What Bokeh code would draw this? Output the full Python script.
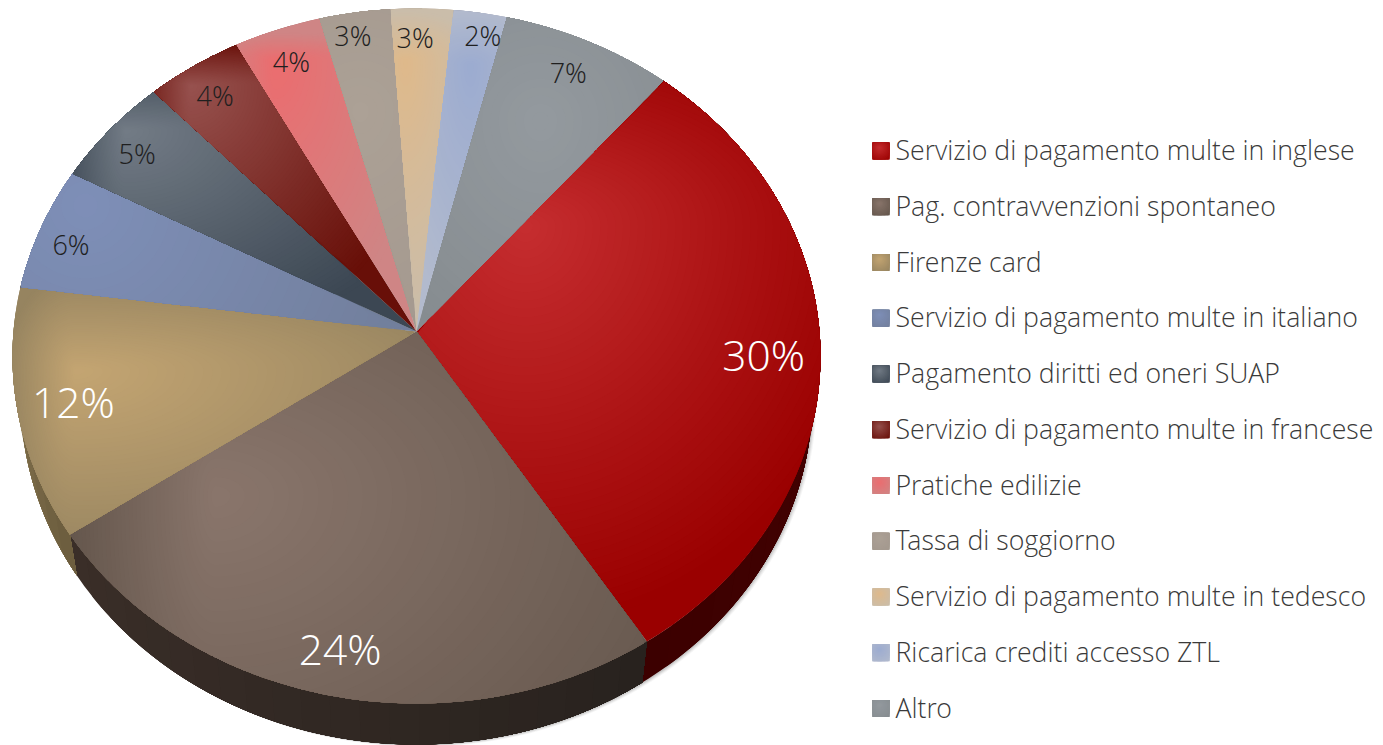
import numpy as np
from bokeh.plotting import figure
from bokeh.models import Range1d, ColumnDataSource
from bokeh.core.properties import value
from bokeh.embed import file_html
from bokeh.resources import INLINE

categories = ["Servizio di pagamento multe in inglese", "Pag. contravvenzioni spontaneo", "Firenze card",
              "Servizio di pagamento multe in italiano", "Pagamento diritti ed oneri SUAP",
              "Servizio di pagamento multe in francese", "Pratiche edilizie", "Tassa di soggiorno",
              "Servizio di pagamento multe in tedesco", "Ricarica crediti accesso ZTL", "Altro"]
shares = [29.8, 24.5, 11.6, 5.75, 5.17, 4.15, 3.73, 3.04, 2.67, 2.28, 7.31]
labels = ["30%", "24%", "12%", "6%", "5%", "4%", "4%", "3%", "3%", "2%", "7%"]

# styling (not data)
START = 40.2
hot = ["#c62e30", "#8a766c", "#c4a572", "#7e8fb8", "#737c86", "#97524f", "#ec6c6e", "#aca196", "#dfb98a", "#9babd0", "#949a9f"]
far = ["#9a0000", "#64564c", "#968460", "#727f9c", "#3c4753", "#680f08", "#cf8585", "#a3988e", "#cabdaa", "#b2bacd", "#868c90"]
hot_xy = [(525, 225), (215, 495), (75, 370), (85, 205), (125, 130), (190, 85), (275, 60), (360, 110), (405, 60), (470, 65), (540, 120)]
# falloff radii: left, right, up, down
fall = [(350, 360, 200, 400), (150, 560, 350, 440), (70, 420, 100, 200), (340, 340, 340, 340), (70, 330, 70, 220),
        (60, 240, 45, 260), (60, 150, 28, 280), (200, 200, 200, 280), (80, 80, 50, 270), (80, 80, 55, 260), (200, 200, 200, 250)]
wall_a = ["#4b0404", "#28221e", "#6b5c3e", "#555555", "#333333", "#440000", "#aa6666", "#888888", "#aa9988", "#888899", "#777777"]
wall_b = ["#3c0000", "#3a2e28", "#8f7e55", "#555555", "#333333", "#440000", "#aa6666", "#888888", "#aa9988", "#888899", "#777777"]
label_r = [0.86, 0.878, 0.863, 0.91, 0.895, 0.888, 0.889, 0.926, 0.906, 0.927, 0.885]
label_dth = [0.55, 0.1, 0.0, -1.35, -0.9, -0.45, -0.1, -1.05, -1.1, 1.1, -0.35]
label_px = [42.5, 42.5, 42.5, 27, 27, 27, 27, 27, 27, 27, 27]
label_col = ["white", "white", "white"] + ["#1f1f1f"] * 8
FONT = "Open Sans Light"

CX, CY, C, A, D = 416.0, 331.0, 0.0705, 345.8, 403.0
DEPTH, SHRINK = 41.0, 0.98
LEG_X, LEG_TOP, LEG_STEP, SW = 872.0, 150.5, 55.75, 17.0
W, H = 1383, 745


def project(theta_deg, r=1.0):
    t = np.radians(theta_deg)
    u, v = r * np.sin(t), r * np.cos(t)
    w = 1 + C * v
    return CX + D * u / w, CY - A * v / w


def rgb(h):
    h = h.lstrip("#")
    return np.array([int(h[i:i + 2], 16) for i in (0, 2, 4)], float)


def mix(a, b, t):
    c = rgb(a) + (rgb(b) - rgb(a)) * float(np.clip(t, 0, 1))
    return "#%02x%02x%02x" % tuple(int(round(x)) for x in c)


PHI = np.radians(np.arange(0, 360, 1.0))
DIRX, DIRY = np.cos(PHI), np.sin(PHI)


def ray_boundary(px, py, hx, hy):
    """distance from (hx,hy) along each ray to the convex polygon (px,py)"""
    x0, y0 = px - hx, py - hy
    x1, y1 = np.roll(x0, -1), np.roll(y0, -1)
    ex, ey = x1 - x0, y1 - y0
    out = np.full(PHI.shape, 1e9)
    for k in range(len(PHI)):
        den = DIRX[k] * ey - DIRY[k] * ex
        with np.errstate(divide="ignore", invalid="ignore"):
            s = (x0 * ey - y0 * ex) / den
            t = (x0 * DIRY[k] - y0 * DIRX[k]) / den
        ok = (s > 0) & (t >= -1e-9) & (t <= 1 + 1e-9) & np.isfinite(s)
        if ok.any():
            out[k] = s[ok].min()
    return out


def nested(px, py, hxy, fl, c_hot, c_far, xs, ys, cs, levels):
    """Smooth shading of a convex shape: stacked level sets, far colour first, clipped to the shape."""
    hx, hy = hxy
    bound = ray_boundary(px, py, hx, hy)
    l, rr, up, dn = fl
    sx = np.where(DIRX < 0, l, rr)
    sy = np.where(DIRY < 0, up, dn)
    unit = 1.0 / np.hypot(DIRX / sx, DIRY / sy)
    xs.append(px.tolist()); ys.append(py.tolist()); cs.append(c_far)
    for t in np.linspace(1, 0, levels + 1)[:-1]:
        d = np.minimum(bound, unit * t)
        xs.append((hx + d * DIRX).tolist())
        ys.append((hy + d * DIRY).tolist())
        cs.append(mix(c_hot, c_far, t))


edges = START + np.concatenate([[0], np.cumsum(shares)]) / sum(shares) * 360.0

p = figure(width=W, height=H, x_range=Range1d(0, W), y_range=Range1d(H, 0),
           output_backend="svg", toolbar_location=None, min_border=0, outline_line_color=None)
p.axis.visible = False
p.grid.visible = False
p.background_fill_color = "white"
p.border_fill_color = "white"

# soft shadow beneath the wall
full = np.linspace(0, 360, 241)
rx, ry = project(full)
lx = CX + (rx - CX) * SHRINK
ly = ry + DEPTH
for k, al in zip((4.5, 3.5, 2.5, 1.5), (0.05, 0.07, 0.10, 0.14)):
    p.patch(lx + k * 0.9, ly + k * 0.5, fill_color="#555555", fill_alpha=al, line_color=None)

# walls, each one a stack so that no seams show
xs, ys, cs = [], [], []
for i in range(len(shares)):
    a0, a1 = edges[i], edges[i + 1]
    n = max(2, int((a1 - a0) / 4))
    for j in range(n, 0, -1):
        th = np.linspace(a0, a0 + (a1 - a0) * j / n, 4 * j + 2)
        tx, ty = project(th)
        bx_ = CX + (tx - CX) * SHRINK
        by_ = ty + DEPTH
        xs.append(np.concatenate([tx, bx_[::-1]]).tolist())
        ys.append(np.concatenate([ty, by_[::-1]]).tolist())
        cs.append(mix(wall_a[i], wall_b[i], (j - 0.5) / n))
p.patches(xs="xs", ys="ys", fill_color="cs", line_color=None,
          source=ColumnDataSource(dict(xs=xs, ys=ys, cs=cs)))

# top surface: one shape per slice from the values, shaded by stacked level sets
xs, ys, cs = [], [], []
for i in range(len(shares)):
    th = np.linspace(edges[i], edges[i + 1], max(8, int((edges[i + 1] - edges[i]) * 1.5)))
    tx, ty = project(th)
    px = np.concatenate([[CX], tx])
    py = np.concatenate([[CY], ty])
    levels = int(max(24, np.abs(rgb(hot[i]) - rgb(far[i])).max()))
    nested(px, py, hot_xy[i], fall[i], hot[i], far[i], xs, ys, cs, levels)
p.patches(xs="xs", ys="ys", fill_color="cs", line_color=None,
          source=ColumnDataSource(dict(xs=xs, ys=ys, cs=cs)))

# data labels
for i, lab in enumerate(labels):
    mx, my = project((edges[i] + edges[i + 1]) / 2 + label_dth[i], label_r[i])
    p.text([mx], [my], text=[lab], text_align="center", text_baseline="middle",
           text_font=value(FONT), text_font_size=f"{label_px[i]}px", text_color=label_col[i])

# legend
xs, ys, cs = [], [], []
for i, name in enumerate(categories):
    yc = LEG_TOP + i * LEG_STEP
    sx = np.array([LEG_X, LEG_X + SW, LEG_X + SW, LEG_X])
    sy = np.array([yc - SW / 2, yc - SW / 2, yc + SW / 2, yc + SW / 2])
    nested(sx, sy, (LEG_X + SW * 0.4, yc - SW * 0.2), (14, 16, 12, 16), hot[i], far[i], xs, ys, cs, 12)
p.patches(xs="xs", ys="ys", fill_color="cs", line_color=None,
          source=ColumnDataSource(dict(xs=xs, ys=ys, cs=cs)))
p.text([LEG_X + 23] * len(categories), [LEG_TOP - 1.5 + i * LEG_STEP for i in range(len(categories))], text=categories,
       text_align="left", text_baseline="middle", text_font=value(FONT), text_font_size="26.7px", text_color="#3a3a3a")

open("out.html", "w").write(file_html(p, INLINE))
